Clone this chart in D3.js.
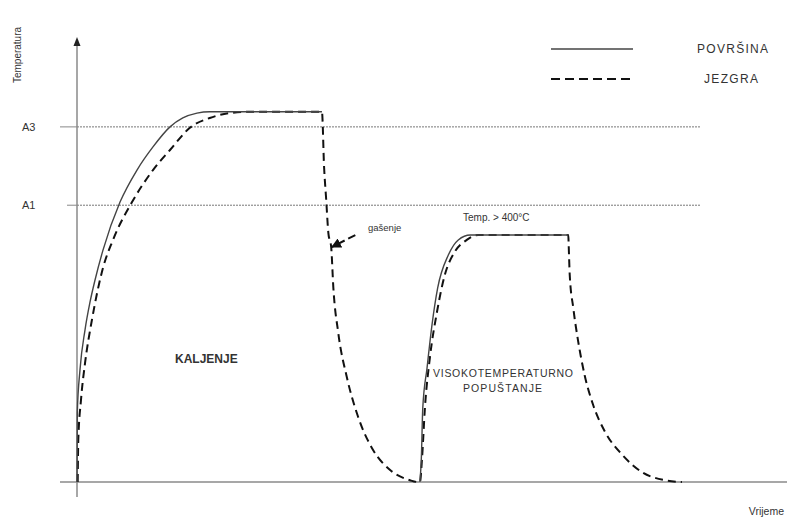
<!DOCTYPE html>
<html>
<head>
<meta charset="utf-8">
<script src="https://cdn.jsdelivr.net/npm/d3@7"></script>
<style>
  body { margin: 0; background: #fff; }
  text { font-family: "Liberation Sans", Arial, sans-serif; fill: #333; }
</style>
</head>
<body>
<div id="chart"></div>
<script>
var width = 787;
var height = 519;

// time (arbitrary units) and temperature (arbitrary units)
var surfaceHeat1 = [[0,0],[0.04,155],[0.42,252],[1.13,342],[1.83,404],[2.54,454],[3.66,521],[6.06,629],[8.45,701],[10.7,753],[13.1,798],[14.9,818],[16.9,829],[18.7,832],[34.5,832]];
var surfaceHeat2 = [[48.3,0],[48.5,54],[48.7,166],[49.3,256],[50.0,353],[50.8,436],[52.3,510],[53.7,544],[55.4,555],[69.2,555]];
var coreCurve = [[0.1,0],[0.18,94],[0.56,184],[1.13,267],[2.1,364],[3.66,481],[5.07,544],[7.75,629],[10.7,701],[13.1,746],[15.9,796],[18.7,818],[21.5,829],[24.4,832],[34.5,832],
  [34.8,708],[35.1,634],[35.4,560],[35.8,528],[36.1,438],[36.8,335],[38.0,236],[39.6,146],[41.7,72],[44.1,27],[46.9,4],[48.0,0],
  [48.3,0],[48.6,54],[49.0,166],[49.7,279],[50.7,382],[51.8,465],[53.2,517],[54.9,544],[56.5,555],[69.2,555],
  [69.25,533],[69.4,465],[69.9,391],[70.6,315],[71.5,240],[72.7,173],[74.4,112],[76.8,61],[79.6,22],[82.8,4],[85.2,0]];
var refNames = ["A3", "A1"];
var refValues = [798, 622];
var legendNames = ["POVRŠINA", "JEZGRA"];

var x = d3.scaleLinear().domain([0, 100]).range([77, 787]);
var y = d3.scaleLinear().domain([0, 1000]).range([482, 37]);

var svg = d3.select("#chart").append("svg")
  .attr("width", width)
  .attr("height", height);

svg.append("defs").append("marker")
  .attr("id", "arrow")
  .attr("viewBox", "0 0 10 10")
  .attr("refX", 9).attr("refY", 5)
  .attr("markerWidth", 5).attr("markerHeight", 5)
  .attr("orient", "auto")
  .append("path").attr("d", "M0,0L10,5L0,10Z").attr("fill", "#111");

// reference lines A3 / A1
refValues.forEach(function (v, i) {
  svg.append("line")
    .attr("x1", 60 + i * 7).attr("x2", x(0))
    .attr("y1", y(v)).attr("y2", y(v))
    .attr("stroke", "#888").attr("stroke-width", 1);
  svg.append("line")
    .attr("x1", x(0)).attr("x2", 700)
    .attr("y1", y(v)).attr("y2", y(v))
    .attr("stroke", "#777").attr("stroke-width", 1)
    .attr("stroke-dasharray", "2,1");
  svg.append("text")
    .attr("x", 22).attr("y", y(v) + 4)
    .attr("font-size", "11px")
    .text(refNames[i]);
});

// axes
svg.append("line")
  .attr("x1", x(0)).attr("x2", x(0))
  .attr("y1", 44).attr("y2", 497)
  .attr("stroke", "#8a8a8a").attr("stroke-width", 1.5);
svg.append("path")
  .attr("d", "M" + (x(0) - 3.5) + ",46L" + x(0) + ",37L" + (x(0) + 3.5) + ",46Z")
  .attr("fill", "#222");
svg.append("line")
  .attr("x1", 60).attr("x2", 787)
  .attr("y1", y(0)).attr("y2", y(0))
  .attr("stroke", "#8a8a8a").attr("stroke-width", 1.5);

svg.append("text")
  .attr("transform", "translate(21,55) rotate(-90)")
  .attr("text-anchor", "middle")
  .attr("font-size", "10px")
  .text("Temperatura");
svg.append("text")
  .attr("x", 784).attr("y", 515)
  .attr("text-anchor", "end")
  .attr("font-size", "10.5px")
  .text("Vrijeme");

var line = d3.line()
  .x(function (d) { return x(d[0]); })
  .y(function (d) { return y(d[1]); })
  .curve(d3.curveMonotoneX);

svg.append("path")
  .datum(coreCurve)
  .attr("d", line)
  .attr("fill", "none")
  .attr("stroke", "#111").attr("stroke-width", 2)
  .attr("stroke-dasharray", "8,5");

[surfaceHeat1, surfaceHeat2].forEach(function (s) {
  svg.append("path")
    .datum(s)
    .attr("d", line)
    .attr("fill", "none")
    .attr("stroke", "#444").attr("stroke-width", 1.4);
});

// legend
svg.append("line")
  .attr("x1", 551).attr("x2", 633).attr("y1", 49).attr("y2", 49)
  .attr("stroke", "#444").attr("stroke-width", 1.4);
svg.append("line")
  .attr("x1", 551).attr("x2", 630).attr("y1", 79).attr("y2", 79)
  .attr("stroke", "#111").attr("stroke-width", 2)
  .attr("stroke-dasharray", "9,5");
svg.append("text")
  .attr("x", 697).attr("y", 53)
  .attr("font-size", "12px")
  .attr("textLength", 71)
  .text(legendNames[0]);
svg.append("text")
  .attr("x", 704).attr("y", 83)
  .attr("font-size", "12px")
  .attr("textLength", 54)
  .text(legendNames[1]);

// annotations
svg.append("line")
  .attr("x1", x(39.2)).attr("y1", y(555))
  .attr("x2", x(35.9)).attr("y2", y(528))
  .attr("stroke", "#111").attr("stroke-width", 2)
  .attr("stroke-dasharray", "8,4")
  .attr("marker-end", "url(#arrow)");
svg.append("text")
  .attr("x", 368).attr("y", 231)
  .attr("font-size", "9.5px")
  .text("gašenje");

svg.append("text")
  .attr("x", 463).attr("y", 221)
  .attr("font-size", "10px")
  .text("Temp. > 400°C");

svg.append("text")
  .attr("x", 175).attr("y", 363)
  .attr("font-size", "12px")
  .attr("font-weight", "bold")
  .text("KALJENJE");

svg.append("text")
  .attr("x", 433).attr("y", 377)
  .attr("font-size", "10.5px")
  .attr("textLength", 140)
  .text("VISOKOTEMPERATURNO");
svg.append("text")
  .attr("x", 463).attr("y", 392)
  .attr("font-size", "10.5px")
  .attr("textLength", 79)
  .text("POPUŠTANJE");
</script>
</body>
</html>
